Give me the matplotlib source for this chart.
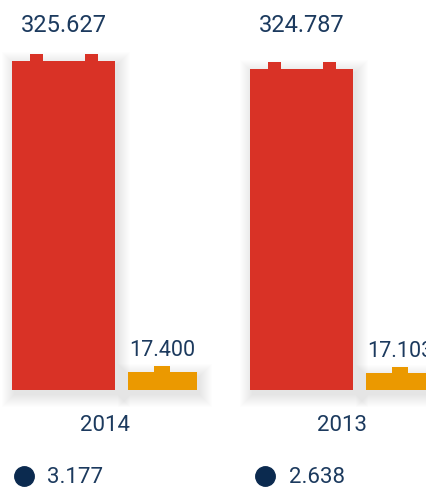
import matplotlib
matplotlib.use("Agg")
import matplotlib.pyplot as plt
from matplotlib.patches import Rectangle
from matplotlib import transforms

# ---- data ----
years = ["2014", "2013"]
main_values = [325.627, 324.787]
side_values = [17.400, 17.103]
dot_values = [3.177, 2.638]

# ---- style ----
RED = "#D93226"
ORANGE = "#EB9900"
NAVY = "#1C3A5E"
DOT = "#0B2A4F"
FONT = ["Roboto", "DejaVu Sans"]
plt.rcParams["font.family"] = FONT

W, H = 427, 492
fig = plt.figure(figsize=(W / 100, H / 100), dpi=100)

group_w = 238          # px per group panel
axis_bottom = 390      # px from top
ylim_tops = [386.0, 394.6]
xlim = (-0.641, 1.763)
widths = [1.04, 0.697]
tab_specs = [[(0.175, 0.126), (0.709, 0.126)], [(0.377, 0.232)]]
tab_px = [7, 6.5]
dot_x = [24, 27]
txt_x = [47, 51]


def add_shadow(ax, x0, y0, w, h, sx, sy):
    layers = 13
    for k in range(layers):
        pad = k + 0.5
        ax.add_patch(Rectangle((x0 - pad / sx + 3 / sx, y0 - pad / sy - 4 / sy),
                               w + 2 * pad / sx, h + 2 * pad / sy,
                               facecolor="black", edgecolor="none",
                               alpha=0.0075, zorder=1, clip_on=False))


for i, year in enumerate(years):
    ax = fig.add_axes([group_w * i / W, (H - axis_bottom) / H,
                       group_w / W, axis_bottom / H])
    ax.set_xlim(*xlim)
    ax.set_ylim(0, ylim_tops[i])
    ax.axis("off")
    sx = group_w / (xlim[1] - xlim[0])
    sy = axis_bottom / ylim_tops[i]

    vals = [main_values[i], side_values[i]]
    bars = ax.bar([0, 1], vals, width=widths, color=[RED, ORANGE],
                  zorder=3, clip_on=False)
    for j, bar in enumerate(bars):
        x0, w, h = bar.get_x(), bar.get_width(), bar.get_height()
        th = tab_px[j] / sy
        add_shadow(ax, x0, 0, w, h, sx, sy)
        for f, tw in tab_specs[j]:
            ax.add_patch(Rectangle((x0 + f * w, h - 0.01), tw * w, th + 0.01,
                                   facecolor=bar.get_facecolor(),
                                   edgecolor="none", zorder=3, clip_on=False))
        cx = x0 + w / 2
        if j == 0:
            ax.text(cx, (axis_bottom - 32) / axis_bottom, f"{vals[j]:.3f}",
                    transform=ax.get_xaxis_transform(), ha="center",
                    va="baseline", fontsize=17, color=NAVY)
        else:
            ax.annotate(f"{vals[j]:.3f}", xy=(cx, h + th), xytext=(0, 10),
                        textcoords="offset pixels", ha="center",
                        va="baseline", fontsize=15.5, color=NAVY,
                        annotation_clip=False)

    gx = (bars[0].get_x() + bars[1].get_x() + bars[1].get_width()) / 2
    ax.annotate(year, xy=(gx, 0), xycoords=("data", "axes fraction"),
                xytext=(0, -41), textcoords="offset pixels", ha="center",
                va="baseline", fontsize=16, color=NAVY, annotation_clip=False)

    dt = transforms.offset_copy(ax.transAxes, fig, x=dot_x[i], y=-86,
                                units="dots")
    ax.plot([0], [0], "o", ms=14, color=DOT, transform=dt, clip_on=False)
    ax.annotate(f"{dot_values[i]:.3f}", xy=(0, 0), xycoords="axes fraction",
                xytext=(txt_x[i], -93), textcoords="offset pixels",
                ha="left", va="baseline", fontsize=16, color=NAVY,
                annotation_clip=False)

fig.savefig("out.png", dpi=100, facecolor="white")
